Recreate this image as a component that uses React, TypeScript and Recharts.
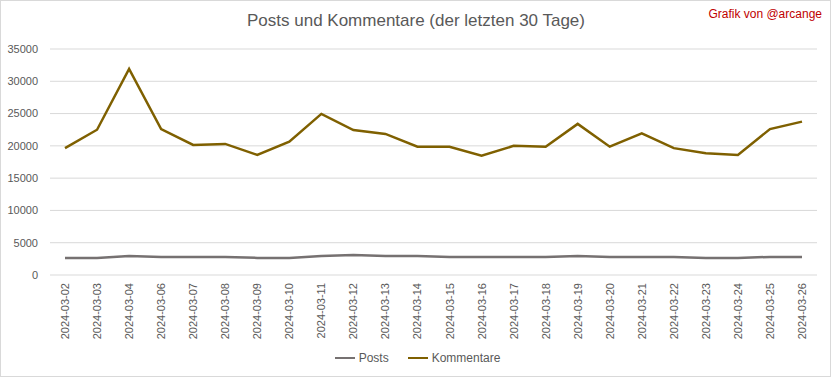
import { CartesianGrid, Legend, Line, LineChart, XAxis, YAxis } from "recharts";

const days = [
  "2024-03-02", "2024-03-03", "2024-03-04", "2024-03-06", "2024-03-07",
  "2024-03-08", "2024-03-09", "2024-03-10", "2024-03-11", "2024-03-12",
  "2024-03-13", "2024-03-14", "2024-03-15", "2024-03-16", "2024-03-17",
  "2024-03-18", "2024-03-19", "2024-03-20", "2024-03-21", "2024-03-22",
  "2024-03-23", "2024-03-24", "2024-03-25", "2024-03-26",
];

const posts = [
  2650, 2650, 2950, 2800, 2800, 2800, 2650, 2650, 2950, 3100, 2950, 2950,
  2800, 2800, 2800, 2800, 2950, 2800, 2800, 2800, 2650, 2650, 2800, 2800,
];

const kommentare = [
  19650, 22500, 31900, 22600, 20150, 20300, 18600, 20650, 24950, 22450, 21850, 19870,
  19870, 18480, 20000, 19870, 23400, 19870, 21950, 19650, 18850, 18600, 22600, 23750,
];

const yTicks = [0, 5000, 10000, 15000, 20000, 25000, 30000, 35000];

const data = days.map((day, i) => ({ day, posts: posts[i], kommentare: kommentare[i] }));

const font = "'Liberation Sans', Arial, sans-serif";
const textColor = "#595959";

function DateTick(props: any) {
  const { x, y, payload } = props;
  return (
    <text
      x={x}
      y={y}
      dy={4}
      transform={`rotate(-90 ${x} ${y})`}
      textAnchor="end"
      fontSize={11}
      fontFamily={font}
      fill={textColor}
    >
      {payload.value}
    </text>
  );
}

function LegendBox() {
  const items = [
    { name: "Posts", color: "#767171" },
    { name: "Kommentare", color: "#7F6000" },
  ];
  return (
    <div
      style={{
        display: "flex",
        justifyContent: "center",
        gap: 19,
        paddingLeft: 18,
        fontFamily: font,
        fontSize: 12,
        color: textColor,
      }}
    >
      {items.map((it) => (
        <div key={it.name} style={{ display: "flex", alignItems: "center", gap: 4 }}>
          <span style={{ display: "inline-block", width: 20, height: 2.5, background: it.color }} />
          <span>{it.name}</span>
        </div>
      ))}
    </div>
  );
}

export default function App() {
  return (
    <div style={{ position: "relative", width: 832, height: 378, background: "#fff" }}>
      <style>{`body{margin:0}`}</style>
      <div
        style={{
          position: "absolute",
          left: 0,
          top: 0,
          width: 831,
          height: 377,
          boxSizing: "border-box",
          border: "1px solid #D9D9D9",
          pointerEvents: "none",
        }}
      />
      <div
        style={{
          position: "absolute",
          top: 11,
          left: 0,
          width: 832,
          textAlign: "center",
          fontFamily: font,
          fontSize: 17,
          color: textColor,
        }}
      >
        Posts und Kommentare (der letzten 30 Tage)
      </div>
      <div
        style={{
          position: "absolute",
          top: 7,
          right: 10,
          fontFamily: font,
          fontSize: 12,
          color: "#C00000",
        }}
      >
        Grafik von @arcange
      </div>
      <LineChart width={832} height={378} data={data} margin={{ top: 49, right: 15, bottom: 19, left: 0 }}>
        <CartesianGrid vertical={false} stroke="#D9D9D9" />
        <XAxis
          dataKey="day"
          interval={0}
          tickLine={false}
          axisLine={false}
          height={70}
          padding={{ left: 15, right: 15 }}
          tick={<DateTick />}
        />
        <YAxis
          domain={[0, 35000]}
          ticks={yTicks}
          width={50}
          tickLine={false}
          axisLine={false}
          tickSize={0}
          tickMargin={12}
          tick={{ fontSize: 11, fontFamily: font, fill: textColor }}
        />
        <Legend verticalAlign="bottom" content={<LegendBox />} wrapperStyle={{ bottom: 13 }} />
        <Line
          dataKey="posts"
          name="Posts"
          stroke="#767171"
          strokeWidth={2.5}
          dot={false}
          isAnimationActive={false}
        />
        <Line
          dataKey="kommentare"
          name="Kommentare"
          stroke="#7F6000"
          strokeWidth={2.5}
          dot={false}
          isAnimationActive={false}
        />
      </LineChart>
    </div>
  );
}
